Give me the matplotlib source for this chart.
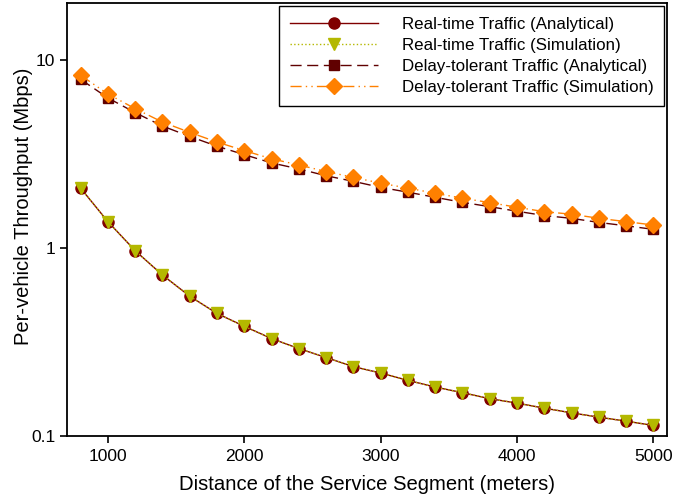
import numpy as np
import matplotlib.pyplot as plt

plt.rcParams['font.family'] = ['Liberation Sans', 'DejaVu Sans']

# segment length (m)
distance = [800, 1000, 1200, 1400, 1600, 1800, 2000, 2200, 2400, 2600, 2800,
            3000, 3200, 3400, 3600, 3800, 4000, 4200, 4400, 4600, 4800, 5000]

# per-vehicle throughput (Mbps)
rt_analytical = [2.07, 1.373, 0.962, 0.714, 0.551, 0.446, 0.381, 0.328, 0.290, 0.260, 0.2325,
                 0.215, 0.1965, 0.181, 0.169, 0.157, 0.1487, 0.1398, 0.132, 0.1252, 0.1192, 0.1131]
rt_simulation = [2.07, 1.373, 0.962, 0.714, 0.551, 0.446, 0.381, 0.328, 0.290, 0.260, 0.2325,
                 0.215, 0.1965, 0.181, 0.169, 0.157, 0.1487, 0.1398, 0.132, 0.1252, 0.1192, 0.1131]
dt_analytical = [7.85, 6.25, 5.22, 4.43, 3.90, 3.46, 3.12, 2.82, 2.62, 2.41, 2.25,
                 2.09, 1.97, 1.85, 1.74, 1.65, 1.56, 1.48, 1.43, 1.36, 1.305, 1.25]
dt_simulation = [8.25, 6.56, 5.48, 4.65, 4.10, 3.64, 3.28, 2.965, 2.75, 2.537, 2.363,
                 2.20, 2.07, 1.945, 1.83, 1.734, 1.638, 1.552, 1.504, 1.431, 1.373, 1.318]

fig = plt.figure(figsize=(6.87, 4.97), dpi=100)
ax = fig.add_axes([67/687, 1 - 435.5/497, 600/687, 432.5/497])

ax.plot(distance, rt_analytical, color='#800000', ls='-', lw=1.0, marker='o', ms=8,
        label='Real-time Traffic (Analytical)')
ax.plot(distance, rt_simulation, color='#b4b800', ls=':', lw=1.0, marker='v', ms=8,
        label='Real-time Traffic (Simulation)')
ax.plot(distance, dt_analytical, color='#600000', ls=(0, (8, 4)), lw=1.0, marker='s', ms=7.5,
        label='Delay-tolerant Traffic (Analytical)')
ax.plot(distance, dt_simulation, color='#ff8000', ls=(0, (8, 3, 1, 3, 1, 3)), lw=1.0, marker='D', ms=8,
        label='Delay-tolerant Traffic (Simulation)')

ax.set_yscale('log')
ax.set_xlim(700, 5100)
ax.set_ylim(0.1, 20)
ax.set_xticks([1000, 2000, 3000, 4000, 5000])
ax.set_xticklabels(['1000', '2000', '3000', '4000', '5000'])
ax.set_yticks([0.1, 1, 10])
ax.set_yticklabels(['0.1', '1', '10'])
ax.minorticks_off()
ax.tick_params(direction='out', length=5, width=1.2, labelsize=12.5, color='black')
ax.tick_params(axis='x', pad=5)
for s in ax.spines.values():
    s.set_linewidth(1.3)

ax.set_xlabel('Distance of the Service Segment (meters)', fontsize=14.6, labelpad=8)
ax.set_ylabel('Per-vehicle Throughput (Mbps)', fontsize=14.5)
ax.yaxis.set_label_coords(-0.057, 0.53)

leg = ax.legend(loc='upper right', fontsize=12.2, handlelength=5.2, handletextpad=1.4,
                fancybox=False, framealpha=1, edgecolor='black', borderpad=0.65,
                labelspacing=0.37, markerscale=1, numpoints=1, borderaxespad=0.15)
leg.get_frame().set_linewidth(1.0)

fig.savefig('out.png', dpi=100)
